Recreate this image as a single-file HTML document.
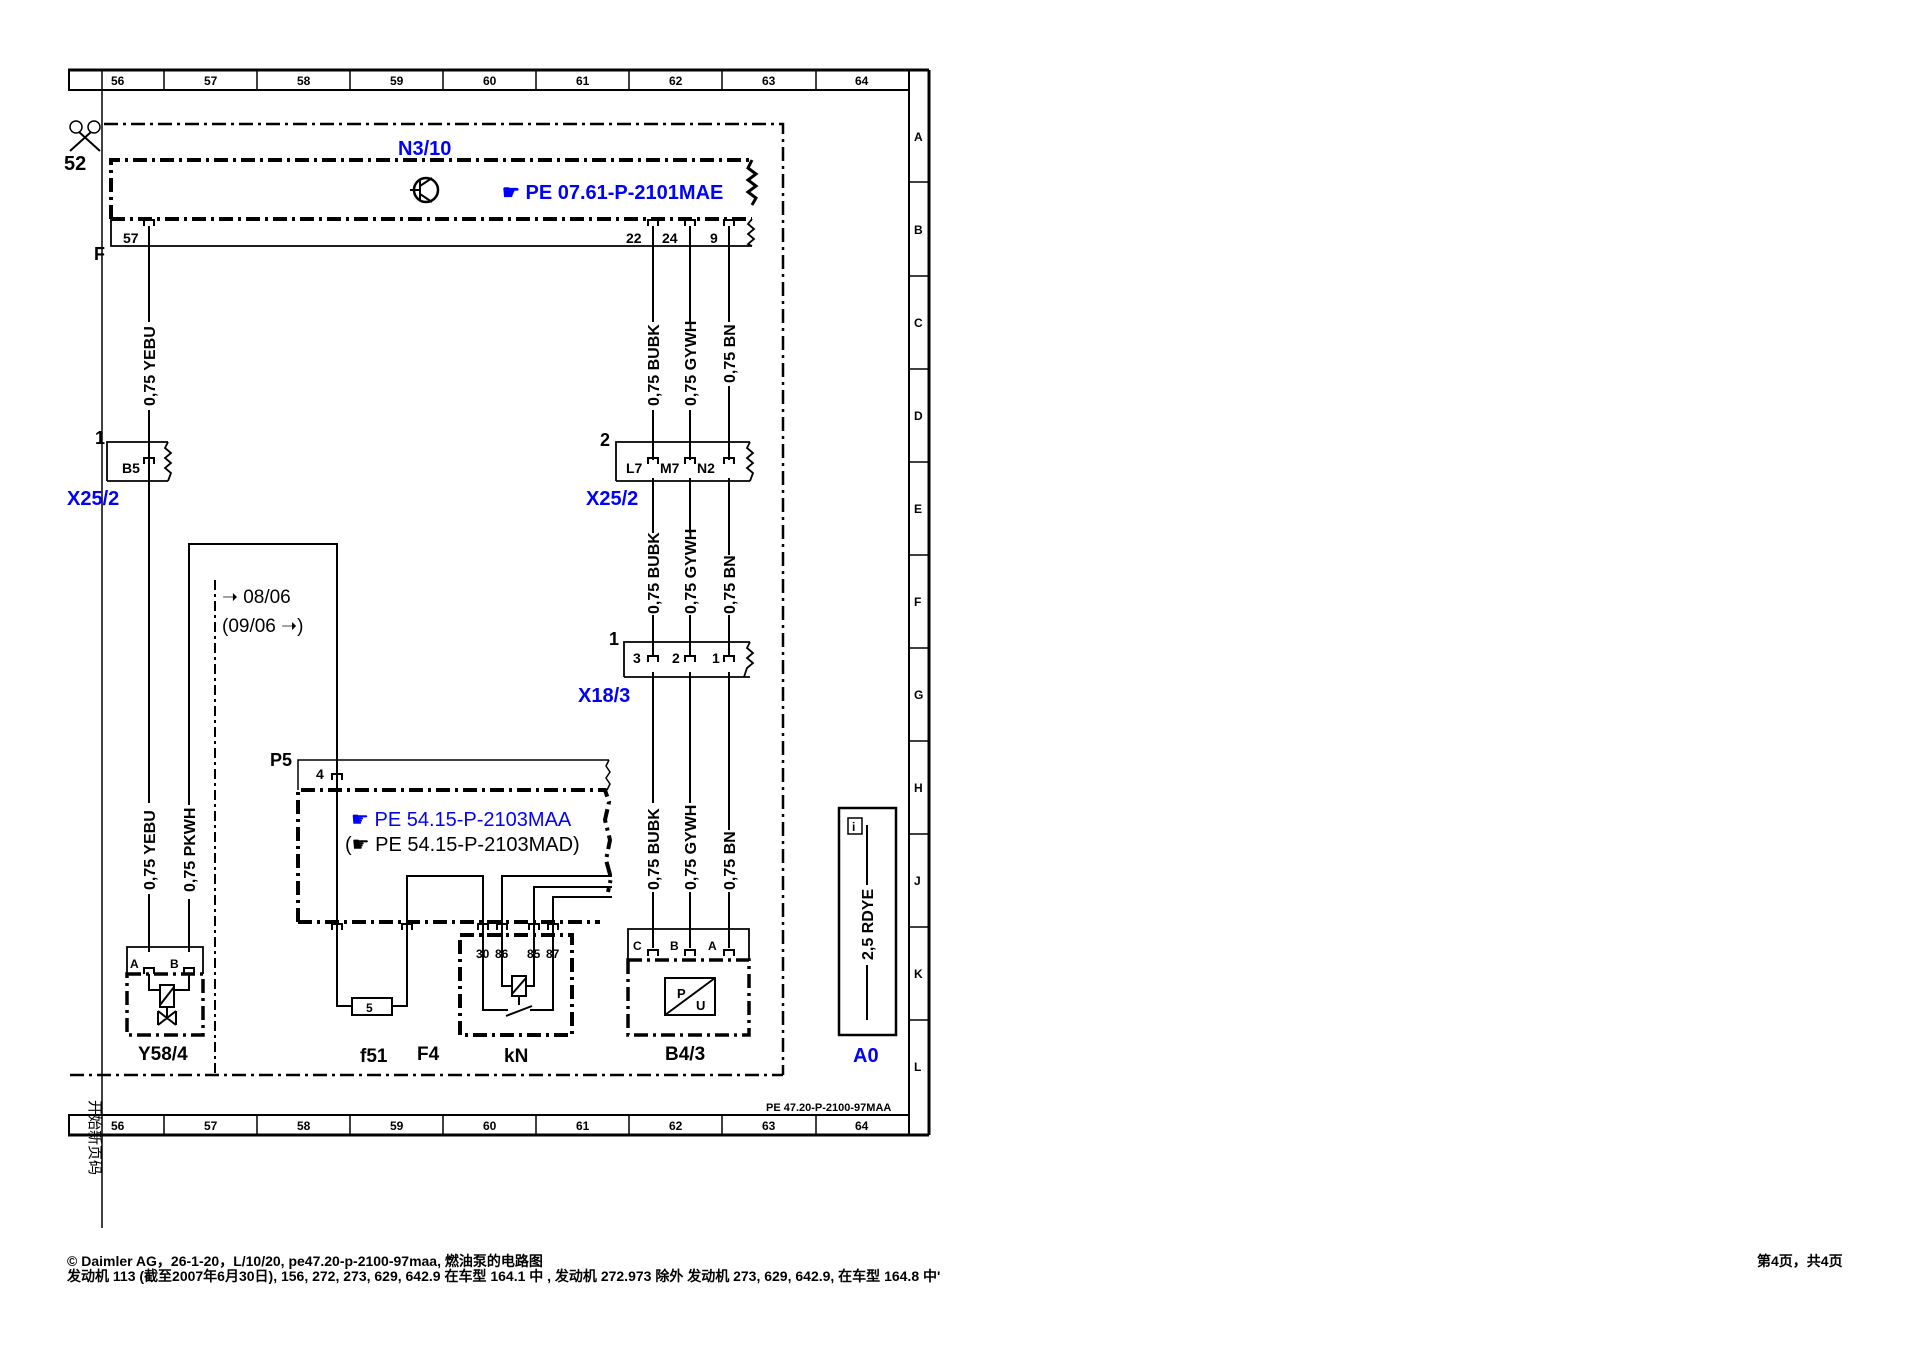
<!DOCTYPE html>
<html><head><meta charset="utf-8"><style>
html,body{margin:0;padding:0;background:#fff;}
svg{display:block;}
text{font-family:"Liberation Sans",Arial,sans-serif;font-weight:bold;}
.b{fill:#0000ff;}
</style></head><body>
<svg width="1920" height="1358" viewBox="0 0 1920 1358" xmlns="http://www.w3.org/2000/svg">
<g stroke="#000" fill="none">
<line x1="68" y1="70" x2="929" y2="70" stroke-width="3"/>
<line x1="68" y1="90" x2="909" y2="90" stroke-width="2"/>
<line x1="68" y1="1115" x2="909" y2="1115" stroke-width="2"/>
<line x1="68" y1="1135" x2="929" y2="1135" stroke-width="3"/>
<line x1="929" y1="70" x2="929" y2="1135" stroke-width="3"/>
<line x1="909" y1="70" x2="909" y2="1135" stroke-width="2"/>
<line x1="69" y1="70" x2="69" y2="90" stroke-width="2"/>
<line x1="69" y1="1115" x2="69" y2="1135" stroke-width="2"/>
<line x1="102" y1="70" x2="102" y2="1228" stroke-width="1.5"/>
<g stroke-width="1.5">
<line x1="164" y1="70" x2="164" y2="90"/><line x1="257" y1="70" x2="257" y2="90"/><line x1="350" y1="70" x2="350" y2="90"/><line x1="443" y1="70" x2="443" y2="90"/><line x1="536" y1="70" x2="536" y2="90"/><line x1="629" y1="70" x2="629" y2="90"/><line x1="722" y1="70" x2="722" y2="90"/><line x1="816" y1="70" x2="816" y2="90"/>
<line x1="164" y1="1115" x2="164" y2="1135"/><line x1="257" y1="1115" x2="257" y2="1135"/><line x1="350" y1="1115" x2="350" y2="1135"/><line x1="443" y1="1115" x2="443" y2="1135"/><line x1="536" y1="1115" x2="536" y2="1135"/><line x1="629" y1="1115" x2="629" y2="1135"/><line x1="722" y1="1115" x2="722" y2="1135"/><line x1="816" y1="1115" x2="816" y2="1135"/>
<line x1="909" y1="182" x2="929" y2="182"/><line x1="909" y1="276" x2="929" y2="276"/><line x1="909" y1="369" x2="929" y2="369"/><line x1="909" y1="462" x2="929" y2="462"/><line x1="909" y1="555" x2="929" y2="555"/><line x1="909" y1="648" x2="929" y2="648"/><line x1="909" y1="741" x2="929" y2="741"/><line x1="909" y1="834" x2="929" y2="834"/><line x1="909" y1="927" x2="929" y2="927"/><line x1="909" y1="1020" x2="929" y2="1020"/>
</g>
<path d="M104 124 H783 V1075 M70 1075 H783" stroke-width="2.5" stroke-dasharray="14 5 3 5"/>
<path d="M111 219 V160 H752" stroke-width="4" stroke-dasharray="14 5 3 5"/>
<path d="M111 219 H752" stroke-width="4" stroke-dasharray="14 5 3 5"/>
<path d="M752 160 l-4 8 l8 6 l-8 6 l8 6 l-8 6 l8 6 l-4 7" stroke-width="3"/>
<path d="M111 219 V246 H752 M752 219 l-4 5 l6 5 l-6 5 l6 5 l-6 5 l4 2" stroke-width="1.8"/>
<circle cx="426" cy="190" r="12" stroke-width="2.5"/>
<path d="M420 180 V200 M420 190 H410 M420 186 L432 178 M420 194 L432 202" stroke-width="2"/>
<g stroke-width="2">
<path d="M149 226 V322 M149 410 V803 M149 894 V952"/>
<path d="M653 226 V322 M653 410 V460 M653 478 V533 M653 615 V656 M653 672 V803 M653 892 V948"/>
<path d="M690 226 V322 M690 410 V460 M690 478 V533 M690 615 V656 M690 672 V803 M690 892 V948"/>
<path d="M729 226 V322 M729 386 V460 M729 478 V555 M729 615 V656 M729 672 V830 M729 892 V948"/>
<path d="M189 952 V899 M189 805 V544 H337 V1006 H352 M392 1006 H407 V876 H483 V930 M502 930 V876 H612 M534 930 V887 H612 M553 930 V897 H612"/>
<path d="M298 790 V760 H609 M609 760 l-3 6 l4 6 l-4 6 l4 6 l-3 6" stroke-width="1.5"/>
</g>
<g stroke-width="2">
<path d="M144 226 v-6 h10 v6 M648 226 v-6 h10 v6 M685 226 v-6 h10 v6 M724 226 v-6 h10 v6"/>
<path d="M144 464 v-6 h10 v6 M648 464 v-6 h10 v6 M685 464 v-6 h10 v6 M724 464 v-6 h10 v6"/>
<path d="M648 662 v-6 h10 v6 M685 662 v-6 h10 v6 M724 662 v-6 h10 v6"/>
<path d="M332 780 v-6 h10 v6"/>
<path d="M332 930 v-6 h10 v6 M402 930 v-6 h10 v6 M478 930 v-6 h10 v6 M497 930 v-6 h10 v6 M529 930 v-6 h10 v6 M548 930 v-6 h10 v6"/>
<path d="M648 956 v-6 h10 v6 M685 956 v-6 h10 v6 M724 956 v-6 h10 v6 M144 974 v-6 h10 v6 M184 974 v-6 h10 v6"/>
</g>
<path d="M107 481 V442 H168 M168 442 l-3 6 l6 5 l-6 5 l6 5 l-6 5 l6 5 l-3 8 M107 481 H168" stroke-width="1.8"/>
<path d="M616 481 V442 H750 M750 442 l-3 6 l6 5 l-6 5 l6 5 l-6 5 l6 5 l-3 8 M616 481 H750" stroke-width="1.8"/>
<path d="M624 677 V642 H750 M750 642 l-3 6 l6 5 l-6 5 l6 5 l-6 5 l-3 9 M624 677 H750" stroke-width="1.8"/>
<path d="M215 580 V1075" stroke-width="2" stroke-dasharray="10 4 3 4"/>
<path d="M298 922 V790 H605 l4 12 l-4 18 l5 20 l-4 20 l5 18 l-3 14 M298 922 H600" stroke-width="4" stroke-dasharray="14 5 3 5"/>
<rect x="352" y="998" width="40" height="17" stroke-width="2"/>
<rect x="460" y="935" width="112" height="100" stroke-width="4" stroke-dasharray="14 5 3 5"/>
<rect x="512" y="976" width="14" height="20" stroke-width="2"/>
<path d="M512 994 L526 978 M502 930 V986 H512 M534 930 V986 H526 M519 996 V1005 M483 930 V1010 H508 M553 930 V1010 H530 M506 1016 L532 1006" stroke-width="2"/>
<path d="M127 974 V947 H203 V974" stroke-width="1.8"/>
<rect x="127" y="974" width="76" height="61" stroke-width="3.5" stroke-dasharray="14 5 3 5"/>
<path d="M149 974 V990 H160 M189 974 V990 H174 M160 985 h14 v22 h-14 z M160 1005 L174 987 M167 1007 V1018 M158 1011 L176 1025 M158 1025 L176 1011 M158 1011 V1025 M176 1011 V1025" stroke-width="2"/>
<path d="M628 960 V929 H749 V960" stroke-width="1.8"/>
<rect x="628" y="960" width="121" height="75" stroke-width="3.5" stroke-dasharray="14 5 3 5"/>
<rect x="665" y="978" width="50" height="37" stroke-width="2"/>
<line x1="665" y1="1015" x2="715" y2="978" stroke-width="2"/>
<rect x="839" y="808" width="57" height="227" stroke-width="2.5"/>
<rect x="848" y="818" width="14" height="16" stroke-width="1.5"/>
<path d="M867 825 V885 M867 965 V1020" stroke-width="2"/>
<circle cx="76" cy="127" r="6" stroke-width="1.5"/><circle cx="94" cy="127" r="6" stroke-width="1.5"/>
<path d="M79 132 L100 151 M91 132 L70 151" stroke-width="2"/>
</g>
<g font-size="12">
<text x="111" y="85">56</text><text x="204" y="85">57</text><text x="297" y="85">58</text><text x="390" y="85">59</text><text x="483" y="85">60</text><text x="576" y="85">61</text><text x="669" y="85">62</text><text x="762" y="85">63</text><text x="855" y="85">64</text>
<text x="111" y="1130">56</text><text x="204" y="1130">57</text><text x="297" y="1130">58</text><text x="390" y="1130">59</text><text x="483" y="1130">60</text><text x="576" y="1130">61</text><text x="669" y="1130">62</text><text x="762" y="1130">63</text><text x="855" y="1130">64</text>
<text x="914" y="141">A</text><text x="914" y="234">B</text><text x="914" y="327">C</text><text x="914" y="420">D</text><text x="914" y="513">E</text><text x="914" y="606">F</text><text x="914" y="699">G</text><text x="914" y="792">H</text><text x="914" y="885">J</text><text x="914" y="978">K</text><text x="914" y="1071">L</text>
</g>
<text x="64" y="170" font-size="20">52</text>
<text x="94" y="260" font-size="18">F</text>
<text x="398" y="155" font-size="20" class="b">N3/10</text>
<text x="502" y="199" font-size="20" class="b">☛ PE 07.61-P-2101MAE</text>
<g font-size="14"><text x="123" y="243">57</text><text x="626" y="243">22</text><text x="662" y="243">24</text><text x="710" y="243">9</text>
<text x="122" y="473">B5</text><text x="626" y="473">L7</text><text x="660" y="473">M7</text><text x="697" y="473">N2</text>
<text x="633" y="663">3</text><text x="672" y="663">2</text><text x="712" y="663">1</text>
<text x="316" y="779">4</text></g>
<text x="95" y="444" font-size="18">1</text>
<text x="600" y="446" font-size="18">2</text>
<text x="609" y="645" font-size="18">1</text>
<text x="67" y="505" font-size="20" class="b">X25/2</text>
<text x="586" y="505" font-size="20" class="b">X25/2</text>
<text x="578" y="702" font-size="20" class="b">X18/3</text>
<g font-size="16">
<text transform="translate(155,406) rotate(-90)">0,75 YEBU</text>
<text transform="translate(659,406) rotate(-90)">0,75 BUBK</text>
<text transform="translate(696,406) rotate(-90)">0,75 GYWH</text>
<text transform="translate(735,383) rotate(-90)">0,75 BN</text>
<text transform="translate(659,614) rotate(-90)">0,75 BUBK</text>
<text transform="translate(696,614) rotate(-90)">0,75 GYWH</text>
<text transform="translate(735,614) rotate(-90)">0,75 BN</text>
<text transform="translate(155,890) rotate(-90)">0,75 YEBU</text>
<text transform="translate(195,892) rotate(-90)">0,75 PKWH</text>
<text transform="translate(659,890) rotate(-90)">0,75 BUBK</text>
<text transform="translate(696,890) rotate(-90)">0,75 GYWH</text>
<text transform="translate(735,890) rotate(-90)">0,75 BN</text>
<text transform="translate(873,960) rotate(-90)">2,5 RDYE</text>
</g>
<text x="222" y="603" font-size="19" style="font-weight:normal">➝ 08/06</text>
<text x="222" y="632" font-size="19" style="font-weight:normal">(09/06 ➝)</text>
<text x="270" y="766" font-size="18">P5</text>
<text x="351" y="826" font-size="20" class="b" style="font-weight:normal">☛ PE 54.15-P-2103MAA</text>
<text x="345" y="851" font-size="20" style="font-weight:normal">(☛ PE 54.15-P-2103MAD)</text>
<text x="366" y="1012" font-size="12">5</text>
<g font-size="12"><text x="476" y="958">30</text><text x="495" y="958">86</text><text x="527" y="958">85</text><text x="546" y="958">87</text>
<text x="633" y="950">C</text><text x="670" y="950">B</text><text x="708" y="950">A</text>
<text x="130" y="968">A</text><text x="170" y="968">B</text></g>
<text x="677" y="998" font-size="13">P</text><text x="696" y="1010" font-size="13">U</text>
<text x="852" y="831" font-size="12">i</text>
<g font-size="19"><text x="138" y="1060">Y58/4</text><text x="360" y="1062">f51</text><text x="417" y="1060">F4</text><text x="504" y="1062">kN</text><text x="665" y="1060">B4/3</text></g>
<text x="853" y="1062" font-size="20" class="b">A0</text>
<text x="766" y="1111" font-size="11">PE 47.20-P-2100-97MAA</text>
<text transform="translate(90,1100) rotate(90)" font-size="15" style="font-weight:normal;font-family:'Liberation Sans','Noto Sans CJK SC',sans-serif">开始新页码</text>
<g font-size="14" style="font-family:'Liberation Sans','Noto Sans CJK SC',sans-serif">
<text x="67" y="1266">© Daimler AG，26-1-20，L/10/20, pe47.20-p-2100-97maa, 燃油泵的电路图</text>
<text x="67" y="1281">发动机 113 (截至2007年6月30日), 156, 272, 273, 629, 642.9 在车型 164.1 中 , 发动机 272.973 除外 发动机 273, 629, 642.9, 在车型 164.8 中'</text>
<text x="1757" y="1266">第4页，共4页</text>
</g>
</svg>
</body></html>
